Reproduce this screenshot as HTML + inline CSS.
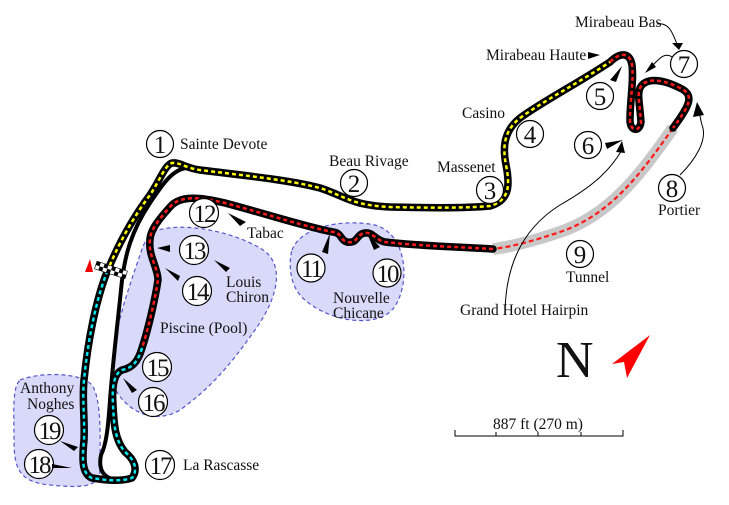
<!DOCTYPE html>
<html><head><meta charset="utf-8"><style>
html,body{margin:0;padding:0;background:#fff}
svg{display:block}
text{font-family:"Liberation Serif",serif;fill:#111}
</style></head><body>
<svg width="729" height="505" viewBox="0 0 729 505" xmlns="http://www.w3.org/2000/svg">
<g fill="#d9d9fa" stroke="#5555cc" stroke-width="1.2" stroke-dasharray="4,3">
<path d="M153,232 C175,222 225,228 260,248 C285,262 280,295 255,330 C235,358 215,385 180,410 C150,428 118,405 112,380 C110,340 128,290 140,255 C144,242 148,236 153,232 Z"/>
<path d="M292,250 C300,228 340,218 375,225 C410,235 410,290 392,310 C375,328 330,322 305,300 C290,288 288,265 292,250 Z"/>
<path d="M20,380 C40,372 80,372 92,385 C102,400 100,440 100,470 C100,488 80,488 50,485 C20,482 14,470 14,440 C14,410 12,388 20,380 Z"/>
</g>
<!-- tunnel -->
<path d="M673,128 C640,175 610,215 560,232 C530,242 510,247 493,249" fill="none" stroke="#c8c8c8" stroke-width="12"/>
<path d="M673,128 C640,175 610,215 560,232 C530,242 510,247 493,249" fill="none" stroke="#ff1a1a" stroke-width="2.2" stroke-dasharray="5,3"/>
<!-- pit lane -->
<path d="M186,168 C172,170 162,185 150,203 C132,230 124,255 121,290 C118,320 113,360 110,400 C108,430 106,445 101,455 C99,465 100,475 112,479" fill="none" stroke="#000" stroke-width="4"/>
<!-- main track black -->
<g fill="none" stroke="#000" stroke-width="7.5" stroke-linejoin="round" stroke-linecap="round">
<path d="M107,272 C120,240 135,215 150,195 C160,180 165,165 172,163 C180,162 185,168 200,170 C240,175 290,180 320,188 C345,196 350,205 390,207 C430,208 470,208 490,206 C510,200 510,185 506,165 C502,145 505,130 520,118 C545,100 575,85 610,62"/>
<path d="M610,62 C620,52 630,52 632,65 C634,80 630,100 630,120 C630,132 640,132 641,122 C640,105 637,95 640,88 C645,78 660,78 680,88 C695,95 690,105 673,128"/>
<path d="M493,249 C460,247 420,246 385,242 C375,240 373,232 365,233 C356,234 358,244 347,242 C340,240 342,233 333,232 C310,228 270,215 225,203 C200,197 180,195 170,207 C160,218 150,230 150,240 C148,255 158,268 158,280 C155,300 148,330 142,348 C138,362 132,368 122,370 C113,374 112,390 113,405 C114,425 115,440 125,452 C135,460 138,470 132,478 C120,482 105,480 92,478 C82,474 82,460 84,440 C85,420 82,400 84,380 C88,340 96,300 107,272"/>
</g>
<g fill="none" stroke-width="2.5" stroke-dasharray="4,3" stroke-linejoin="round">
<path d="M107,272 C120,240 135,215 150,195 C160,180 165,165 172,163 C180,162 185,168 200,170 C240,175 290,180 320,188 C345,196 350,205 390,207 C430,208 470,208 490,206 C510,200 510,185 506,165 C502,145 505,130 520,118 C545,100 575,85 610,62" stroke="#ffff00"/>
<path d="M610,62 C620,52 630,52 632,65 C634,80 630,100 630,120 C630,132 640,132 641,122 C640,105 637,95 640,88 C645,78 660,78 680,88 C695,95 690,105 673,128" stroke="#ff1a1a"/>
<path d="M493,249 C460,247 420,246 385,242 C375,240 373,232 365,233 C356,234 358,244 347,242 C340,240 342,233 333,232 C310,228 270,215 225,203 C200,197 180,195 170,207 C160,218 150,230 150,240 C148,255 158,268 158,280 C155,300 148,330 142,348" stroke="#ff1a1a"/>
<path d="M142,348 C138,362 132,368 122,370 C113,374 112,390 113,405 C114,425 115,440 125,452 C135,460 138,470 132,478 C120,482 105,480 92,478 C82,474 82,460 84,440 C85,420 82,400 84,380 C88,340 96,300 107,272" stroke="#00e5ee"/>
</g>
<!-- start line -->
<g transform="rotate(18 111 270)">
<rect x="95" y="266" width="32" height="8" fill="#fff" stroke="#000" stroke-width="0.6"/>
<path d="M95,266h4v4h-4zM103,266h4v4h-4zM111,266h4v4h-4zM119,266h4v4h-4zM99,270h4v4h-4zM107,270h4v4h-4zM115,270h4v4h-4zM123,270h4v4h-4z" fill="#000"/>
</g>
<polygon points="90,259 85,272 93,272" fill="#ee0000"/>
<!-- circles -->
<g fill="#fff" stroke="#000" stroke-width="1.2">
<circle cx="160" cy="144" r="13.5"/><circle cx="354" cy="183" r="13.5"/><circle cx="490" cy="190" r="13.5"/><circle cx="530" cy="134" r="13.5"/><circle cx="600" cy="96" r="13.5"/><circle cx="588" cy="145" r="13.5"/><circle cx="684" cy="64" r="13.5"/><circle cx="672" cy="188" r="13.5"/><circle cx="580" cy="254" r="13.5"/><circle cx="387" cy="273" r="14"/><circle cx="311" cy="268" r="14"/><circle cx="204" cy="213" r="14.5"/><circle cx="194" cy="250" r="14.5"/><circle cx="197" cy="291" r="14.5"/><circle cx="157" cy="367" r="14.5"/><circle cx="153" cy="402" r="14.5"/><circle cx="160" cy="465" r="14.5"/><circle cx="39" cy="464" r="14.5"/><circle cx="49" cy="430" r="14.5"/>
</g>
<g font-size="25" text-anchor="middle">
<text x="160" y="153">1</text><text x="354" y="192">2</text><text x="490" y="199">3</text><text x="530" y="143">4</text><text x="600" y="105">5</text><text x="588" y="154">6</text><text x="684" y="73">7</text><text x="672" y="197">8</text><text x="580" y="263">9</text>
<g letter-spacing="-2"><text x="387" y="282">10</text><text x="311" y="277">11</text><text x="204" y="222">12</text><text x="194" y="259">13</text><text x="197" y="300">14</text><text x="157" y="376">15</text><text x="153" y="411">16</text><text x="160" y="474">17</text><text x="39" y="473">18</text><text x="49" y="439">19</text></g>
</g>
<g font-size="15.5">
<text x="180" y="149">Sainte Devote</text>
<text x="329" y="166">Beau Rivage</text>
<text x="437" y="172">Massenet</text>
<text x="462" y="118">Casino</text>
<text x="486" y="60">Mirabeau Haute</text>
<text x="575" y="27">Mirabeau Bas</text>
<text x="658" y="215">Portier</text>
<text x="566" y="282">Tunnel</text>
<text x="460" y="315">Grand Hotel Hairpin</text>
<text x="247" y="238">Tabac</text>
<text x="226" y="287">Louis</text><text x="226" y="302">Chiron</text>
<text x="160" y="333">Piscine (Pool)</text>
<text x="333" y="303">Nouvelle</text><text x="333" y="318">Chicane</text>
<text x="20" y="393">Anthony</text><text x="27" y="409">Noghes</text>
<text x="183" y="470">La Rascasse</text>
<text x="493" y="429">887 ft (270 m)</text>
</g>
<text x="556" y="377" font-size="52">N</text>
<polygon points="650,335 612,364 624,362 627,378" fill="#ff0000"/>
<!-- scale bar -->
<path d="M455,430V436H623V430M496,436V432M538,436V432M581,436V432" fill="none" stroke="#000" stroke-width="1"/>
<!-- pointer arrows -->
<g fill="#000">
<polygon points="228,213 246,222 240,226"/>
<polygon points="170,245 157,248 170,252"/>
<polygon points="214,260 230,268 226,272"/>
<polygon points="165,268 180,276 178,281"/>
<polygon points="123,378 137,390 132,393"/>
<polygon points="330,233 322,252 328,254"/>
<polygon points="367,233 374,250 380,247"/>
<polygon points="60,441 78,447 74,451"/>
<polygon points="52,464 72,468 52,468"/>
<polygon points="588,52 600,55 588,59"/>
<polygon points="622,66 610,80 616,82"/>
<polygon points="623,140 605,143 607,149"/>
</g>
<g fill="none" stroke="#000" stroke-width="1">
<path d="M505,315 C505,270 520,230 560,205 C595,185 610,170 622,150"/>
<path d="M680,175 C695,160 708,140 702,125 C700,118 700,114 699,112"/>
<path d="M657,24 C670,22 673,35 677,44"/>
<path d="M672,57 C665,52 660,58 652,66"/>
</g>
<g fill="#000">
<polygon points="622,141 616,152 625,153"/>
<polygon points="697,102 693,117 704,115"/>
<polygon points="679,50 672,43 683,43"/>
<polygon points="645,73 652,62 656,67"/>
</g>
</svg>
</body></html>
